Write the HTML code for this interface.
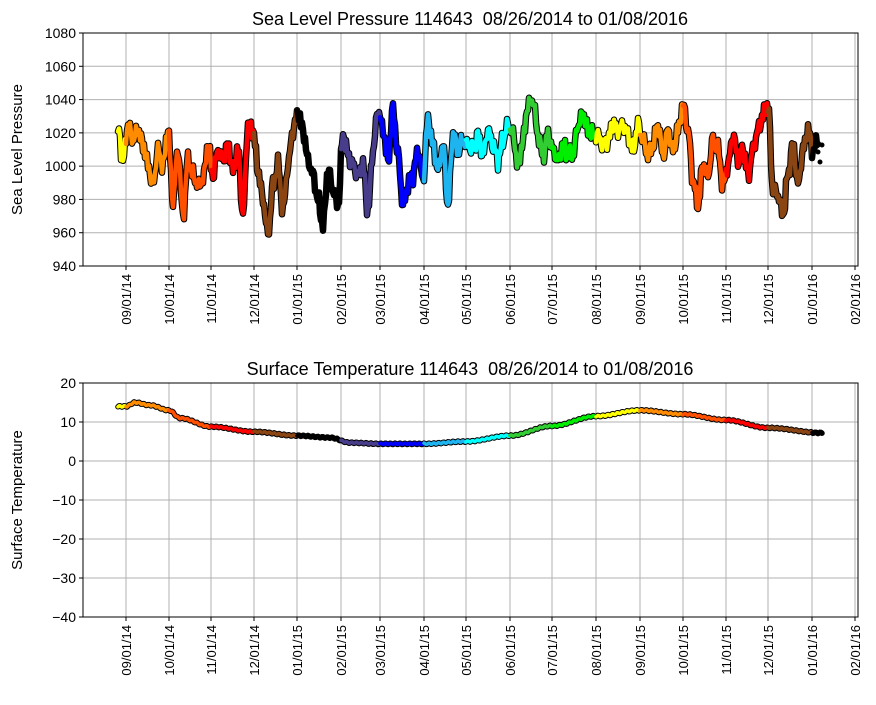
<!DOCTYPE html>
<html><head><meta charset="utf-8"><style>
body{margin:0;background:#fff;}
svg text{font-family:"Liberation Sans",sans-serif;fill:#000;}
</style></head><body>
<svg id="s" width="876" height="700" xmlns="http://www.w3.org/2000/svg"></svg>
<script>
const S=document.getElementById('s');let h='';
const ticks=[126,169,211,254,297,341,380,424,466,510,552,596,640,683,726,768,812,855];
const labs=['09/01/14','10/01/14','11/01/14','12/01/14','01/01/15','02/01/15','03/01/15','04/01/15','05/01/15','06/01/15','07/01/15','08/01/15','09/01/15','10/01/15','11/01/15','12/01/15','01/01/16','02/01/16'];
const cols=['#ffff00','#ff8c00','#ff5000','#ff0000','#8b4513','#000000','#483d8b','#0000ff','#1eb4f0','#00ffff','#32cd32','#00ee00','#ffff00','#ff8c00','#ff5000','#ff0000','#8b4513','#000000'];
function colAt(x){let i=0;while(i<ticks.length&&x>=ticks[i])i++;return cols[i];}
function axes(top,bot,yt,title,ylab){
 for(const t of ticks)h+=`<line x1="${t}" y1="${top}" x2="${t}" y2="${bot}" stroke="#b0b0b0" stroke-width="1"/>`;
 for(const [v,y] of yt){h+=`<line x1="83" y1="${y}" x2="858" y2="${y}" stroke="#b0b0b0"/><line x1="79" y1="${y}" x2="83" y2="${y}" stroke="#000"/><text x="76" y="${y+5}" font-size="14" text-anchor="end">${v}</text>`;}
 ticks.forEach((t,i)=>{h+=`<line x1="${t}" y1="${bot}" x2="${t}" y2="${bot+4}" stroke="#000"/><text transform="translate(${t+5},${bot+8}) rotate(-90)" font-size="13" text-anchor="end">${labs[i]}</text>`;});
 h+=`<text x="470" y="${top-8}" font-size="18" text-anchor="middle">${title}</text>`;
 h+=`<text transform="translate(22,${(top+bot)/2}) rotate(-90)" font-size="15" text-anchor="middle">${ylab}</text>`;
}
function series(pts,w){
 let segs=[];let cur=null;
 for(const p of pts){const c=colAt(p[0]);if(!cur||cur.c!==c){if(cur)cur.p.push(p);cur={c,p:cur?[cur.p[cur.p.length-1]]:[]};segs.push(cur);}cur.p.push(p);}
 const all=pts.map(p=>p[0].toFixed(1)+','+p[1].toFixed(1)).join(' ');
 h+=`<polyline points="${all}" fill="none" stroke="#000" stroke-width="${w+2}" stroke-linejoin="round" stroke-linecap="round"/>`;
 for(const s of segs)h+=`<polyline points="${s.p.map(p=>p[0].toFixed(1)+','+p[1].toFixed(1)).join(' ')}" fill="none" stroke="${s.c}" stroke-width="${w}" stroke-linejoin="round" stroke-linecap="round"/>`;
}
const yt1=[];for(let v=940;v<=1080;v+=20)yt1.push([v,266-(v-940)/140*233]);
axes(33,266,yt1,'Sea Level Pressure 114643&#160; 08/26/2014 to 01/08/2016','Sea Level Pressure');
const kp=[130,160,125,140,130,145,165,185,150,165,130,200,150,215,160,175,185,180,145,175,150,160,145,170,150,215,125,130,170,200,235,185,165,210,165,130,115,130,160,175,200,225,170,190,205,135,155,165,175,165,210,150,110,130,160,110,155,205,185,175,150,180,120,145,170,145,205,135,150,140,145,150,135,155,130,145,160,140,125,135,165,140,105,100,135,155,135,150,160,145,155,155,125,115,130,135,135,145,140,125,130,125,135,150,125,140,155,145,125,155,130,150,130,105,130,180,205,165,175,140,150,185,165,135,160,150,175,150,130,115,105,190,195,215,175,145,185,150,130,150,140,145];
let P=[];
for(let x=118;x<=818;x+=1){const f=(x-118)/5;const i=Math.floor(f),t=f-i;const a=kp[Math.min(i,kp.length-1)],b=kp[Math.min(i+1,kp.length-1)];const tt=(1-Math.cos(Math.PI*t))/2;let y=a+(b-a)*tt+5*Math.sin(x*2.3)+4*Math.sin(x*1.1)+2*Math.sin(x*3.7);P.push([x,y]);}
series(P,4.5);
h+=`<circle cx="820" cy="162" r="2.5"/><circle cx="822" cy="145" r="2.5"/><circle cx="818" cy="152" r="2.5"/>`;
h+=`<rect x="83" y="33" width="775" height="233" fill="none" stroke="#000"/>`;
const yt2=[];for(let v=-40;v<=20;v+=10)yt2.push([v===0?'0':(v<0?'−'+(-v):v),461-v*3.9]);
axes(383,617,yt2,'Surface Temperature 114643&#160; 08/26/2014 to 01/08/2016','Surface Temperature');
const tk=[[118,14],[126,14],[135,15],[150,14.3],[169,13],[180,11],[211,8.8],[254,7.5],[297,6.5],[330,6],[350,4.7],[380,4.4],[424,4.4],[466,5],[510,6.5],[552,9],[596,11.5],[640,13],[683,12],[726,10.5],[768,8.5],[822,7.2]];
let T=[];for(let x=118;x<=822;x++){let j=0;while(j<tk.length-2&&x>tk[j+1][0])j++;const [x0,v0]=tk[j],[x1,v1]=tk[j+1];const t=(x-x0)/(x1-x0);const v=v0+(v1-v0)*(1-Math.cos(Math.PI*t))/2;T.push([x,461-v*3.9+0.7*Math.sin(x*1.3)]);}
series(T,3.5);
h+=`<rect x="83" y="383" width="775" height="234" fill="none" stroke="#000"/>`;
S.innerHTML=h;
</script>
</body></html>
